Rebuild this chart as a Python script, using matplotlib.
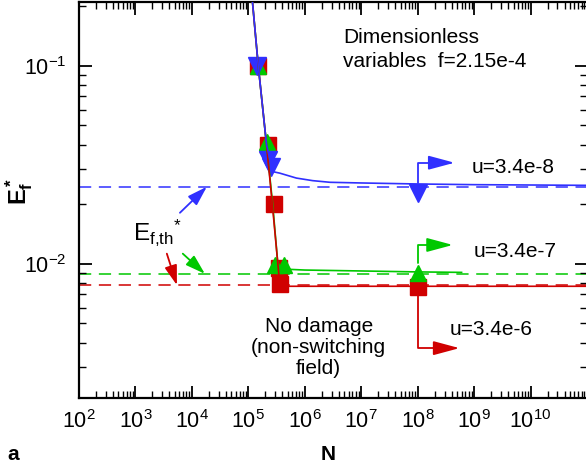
import numpy as np
import matplotlib
matplotlib.use("Agg")
import matplotlib.pyplot as plt
from matplotlib.ticker import FixedLocator, FuncFormatter, LogLocator, NullFormatter

plt.rcParams['font.family'] = ['Liberation Sans', 'DejaVu Sans']
plt.rcParams['mathtext.fontset'] = 'custom'
plt.rcParams['mathtext.rm'] = 'Liberation Sans'
plt.rcParams['mathtext.it'] = 'Liberation Sans'
plt.rcParams['mathtext.bf'] = 'Liberation Sans:bold'
plt.rcParams['mathtext.default'] = 'regular'
plt.rcParams['axes.unicode_minus'] = False

# ---------------- data ----------------
# u = 3.4e-8 (blue)
blue_line_N = [1.12e5, 1.5e5, 2.1e5, 2.5e5, 2.72e5, 3.6e5, 7.1e5, 1.38e6, 2.8e6, 1e7, 1e8, 1e9, 1e10, 1e11]
blue_line_E = [0.25, 0.1, 0.04, 0.032, 0.0292, 0.0287, 0.0271, 0.0263, 0.0258, 0.0256, 0.0253, 0.0251, 0.025, 0.0249]
blue_mark_N = [1.45e5, 2.24e5, 2.57e5, 1e8]
blue_mark_E = [0.1, 0.0335, 0.031, 0.0228]
blue_thresh = 0.0245

# u = 3.4e-7 (green)
green_line_N = [1.12e5, 1.5e5, 2.1e5, 2.7e5, 3.35e5, 4.3e5, 1e6, 1e7, 1e8, 6e8]
green_line_E = [0.25, 0.1, 0.04, 0.02, 0.0098, 0.0094, 0.0093, 0.0092, 0.0091, 0.00905]
green_mark_N = [1.5e5, 2.15e5, 3.0e5, 4.2e5, 1e8]
green_mark_E = [0.1, 0.041, 0.0099, 0.0099, 0.0090]
green_thresh = 0.0089

# u = 3.4e-6 (red)
red_line_N = [1.12e5, 1.5e5, 2.1e5, 2.66e5, 3.6e5, 4.5e5, 1e6, 1e8, 1e11]
red_line_E = [0.25, 0.1, 0.04, 0.02, 0.0079, 0.0077, 0.0077, 0.0077, 0.0077]
red_mark_N = [1.5e5, 2.19e5, 2.83e5, 3.5e5, 3.7e5, 1e8]
red_mark_E = [0.1, 0.04, 0.02, 0.0095, 0.0079, 0.0076]
red_thresh = 0.0078

labels_u = ['u=3.4e-8', 'u=3.4e-7', 'u=3.4e-6']
x_major = [1e2, 1e3, 1e4, 1e5, 1e6, 1e7, 1e8, 1e9, 1e10, 1e11]

BLUE = '#3030ff'
GREEN = '#00c800'
RED = '#d00000'

fig = plt.figure(figsize=(5.86, 4.70), dpi=100)
W, H = 586.0, 470.0
ax = fig.add_axes([79 / W, 1 - 398 / H, (587 - 79) / W, 396 / H])
ax.set_xscale('log')
ax.set_yscale('log')
ax.set_xlim(1e2, 1e11)
ax.set_ylim(0.0021, 0.21)

# threshold dashed lines
for th, c in [(blue_thresh, BLUE), (green_thresh, GREEN), (red_thresh, RED)]:
    ax.axhline(th, color=c, lw=1.1, dashes=(8, 5), zorder=1)

# markers
ax.plot(red_mark_N, red_mark_E, ls='none', marker='s', ms=11, color=RED, mec=RED, zorder=2)
ax.plot(green_mark_N, green_mark_E, ls='none', marker='^', ms=12, color=GREEN, mec=GREEN, zorder=3)
ax.plot(blue_mark_N, blue_mark_E, ls='none', marker='v', ms=13, color=BLUE, mec=BLUE, zorder=4)

# lines
ax.plot(green_line_N, green_line_E, color=GREEN, lw=1.2, zorder=5)
ax.plot(red_line_N, red_line_E, color=RED, lw=1.2, zorder=6)
ax.plot(blue_line_N, blue_line_E, color=BLUE, lw=1.2, zorder=7)

# ticks
ax.xaxis.set_major_locator(FixedLocator(x_major))
ax.xaxis.set_major_formatter(FuncFormatter(
    lambda v, p: '' if v > 5e10 else r'$10^{%d}$' % int(round(np.log10(v)))))
ax.xaxis.set_minor_locator(LogLocator(base=10, subs=np.arange(2, 10), numticks=20))
ax.xaxis.set_minor_formatter(NullFormatter())
ax.yaxis.set_major_locator(FixedLocator([1e-2, 1e-1]))
ax.yaxis.set_major_formatter(FuncFormatter(
    lambda v, p: r'$10^{%d}$' % int(round(np.log10(v)))))
ax.yaxis.set_minor_locator(LogLocator(base=10, subs=np.arange(2, 10), numticks=20))
ax.yaxis.set_minor_formatter(NullFormatter())
ax.tick_params(which='both', direction='in', top=True, right=True, labelsize=15.5, colors='black')
ax.tick_params(which='major', length=9, width=1.3, pad=9)
ax.tick_params(which='minor', length=5, width=1.0)
for s in ax.spines.values():
    s.set_linewidth(1.6)

# annotations text
ax.text(0.52, 0.88, 'Dimensionless\nvariables  f=2.15e-4', transform=ax.transAxes,
        fontsize=15, ha='left', va='center', linespacing=1.35)
ax.text(0.772, 0.568, labels_u[0], transform=ax.transAxes, fontsize=15, ha='left', va='baseline')
ax.text(0.776, 0.356, labels_u[1], transform=ax.transAxes, fontsize=15, ha='left', va='baseline')
ax.text(0.730, 0.159, labels_u[2], transform=ax.transAxes, fontsize=15, ha='left', va='baseline')
ax.text(0.472, 0.128, 'No damage\n(non-switching\nfield)', transform=ax.transAxes,
        fontsize=15, ha='center', va='center', multialignment='center', linespacing=1.12)
ax.text(0.106, 0.399, r'$E_{f{,}th}{}^{*}$', transform=ax.transAxes, fontsize=17.5,
        ha='left', va='baseline')


def arrow(tail, tip, color, hl, hw, lw=1.3, conn='arc3'):
    ax.annotate('', xy=tip, xytext=tail, xycoords='data', textcoords='data',
                arrowprops=dict(arrowstyle='-|>,head_length=%g,head_width=%g' % (hl, hw),
                                color=color, lw=lw, mutation_scale=1,
                                shrinkA=0, shrinkB=0, connectionstyle=conn),
                zorder=8)


# E_f,th pointer arrows
arrow((6140, 0.0181), (1.84e4, blue_thresh), BLUE, 12, 3.8)
arrow((6900, 0.01125), (1.7e4, green_thresh), GREEN, 12, 3.8)
arrow((3600, 0.01125), (5430, red_thresh), RED, 12, 3.8)

# elbow arrows to the u labels
elbow = 'angle,angleA=90,angleB=0,rad=0'
arrow((1e8, 0.0256), (4.5e8, 0.0324), BLUE, 16, 4.3, conn=elbow)
arrow((1e8, 0.0101), (4.2e8, 0.01245), GREEN, 16, 4.3, conn=elbow)
arrow((1e8, 0.00687), (5.5e8, 0.00375), RED, 16, 4.3, conn=elbow)

# axis labels
fig.text(19 / W, 1 - 191 / H, r'$\mathbf{E_f^*}$', rotation=90, fontsize=17,
         ha='center', va='center')
fig.text(328 / W, 1 - 455 / H, 'N', fontsize=15, fontweight='bold', ha='center', va='center')
fig.text(13 / W, 1 - 454 / H, 'a', fontsize=15, fontweight='bold', ha='center', va='center')

fig.savefig('out.png', dpi=100)
